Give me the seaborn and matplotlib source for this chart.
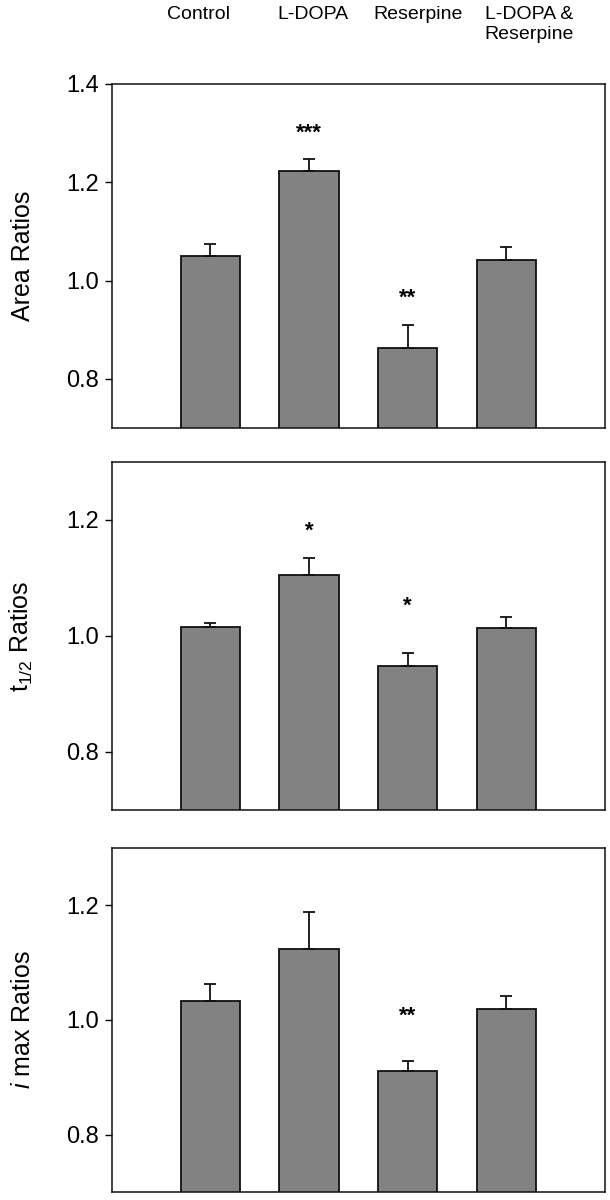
import numpy as np
import pandas as pd
import seaborn as sns
import matplotlib
matplotlib.use('Agg')
import matplotlib.pyplot as plt
from matplotlib.transforms import offset_copy, blended_transform_factory

# Данные
groups = ['Control', 'L-DOPA', 'Reserpine', 'L-DOPA & Reserpine']
group_labels = ['Control', 'L-DOPA', 'Reserpine', 'L-DOPA &\nReserpine']

area_vals = [1.050, 1.223, 0.862, 1.041]
area_err = [0.025, 0.024, 0.048, 0.027]
area_stars = ['', '***', '**', '']
area_star_y = [np.nan, 1.316, 0.980, np.nan]

t12_vals = [1.015, 1.106, 0.949, 1.013]
t12_err = [0.007, 0.029, 0.022, 0.019]
t12_stars = ['', '*', '*', '']
t12_star_y = [np.nan, 1.193, 1.064, np.nan]

imax_vals = [1.034, 1.124, 0.911, 1.019]
imax_err = [0.028, 0.065, 0.017, 0.022]
imax_stars = ['', '', '**', '']
imax_star_y = [np.nan, np.nan, 1.019, np.nan]

ylabels = ['Area Ratios', 't$_{1/2}$ Ratios', '$\\mathit{i}$ max Ratios']
ylims = [(0.7, 1.4), (0.7, 1.3), (0.7, 1.3)]
yticks = [[0.8, 1.0, 1.2, 1.4], [0.8, 1.0, 1.2], [0.8, 1.0, 1.2]]

sns.set_theme(style='white')
plt.rcParams['font.family'] = ['Liberation Sans', 'DejaVu Sans']
plt.rcParams['mathtext.fontset'] = 'custom'
plt.rcParams['mathtext.rm'] = 'Liberation Sans'
plt.rcParams['mathtext.it'] = 'Liberation Sans:italic'
plt.rcParams['mathtext.default'] = 'regular'
plt.rcParams['text.color'] = 'black'
plt.rcParams['axes.labelcolor'] = 'black'
plt.rcParams['ytick.color'] = 'black'
plt.rcParams['xtick.color'] = 'black'

fig = plt.figure(figsize=(6.1, 12), dpi=100)
W, H = 610, 1200
left, right = 111.7, 605
# (верх, низ) панелей в пикселях
panel_px = [(84, 428), (462, 810), (848, 1192)]
axes = []
for top, bot in panel_px:
    axes.append(fig.add_axes([left / W, 1 - bot / H, (right - left) / W, (bot - top) / H]))

panels = [
    (area_vals, area_err, area_stars, area_star_y),
    (t12_vals, t12_err, t12_stars, t12_star_y),
    (imax_vals, imax_err, imax_stars, imax_star_y),
]

for i, (ax, (vals, err, stars, star_y)) in enumerate(zip(axes, panels)):
    df = pd.DataFrame({'group': groups, 'value': vals, 'err': err})
    sns.barplot(data=df, x='group', y='value', order=groups, color='#828282', saturation=1,
                width=0.6, edgecolor='#111111', linewidth=1.3, errorbar=None, ax=ax)
    x = np.arange(len(groups))
    ax.errorbar(x, df['value'], yerr=[np.zeros(len(err)), df['err']], fmt='none',
                ecolor='#111111', elinewidth=1.3, capsize=4.5, capthick=1.3, zorder=1)
    # звёздочки значимости
    star_tr = offset_copy(ax.transData, fig=fig, y=-13, units='dots')
    for xi, s, sy in zip(x, stars, star_y):
        if s:
            ax.text(xi, sy, s, ha='center', va='baseline', fontsize=16, fontweight='bold',
                    transform=star_tr)
    ax.set_xlim(-1, 4)
    ax.set_ylim(*ylims[i])
    ax.set_yticks(yticks[i])
    ax.set_yticklabels([f'{t:.1f}' for t in yticks[i]])
    ax.set_xticks([])
    ax.set_xlabel('')
    ax.set_ylabel(ylabels[i], fontsize=18)
    ax.yaxis.set_label_coords(-0.155, 0.5)
    ax.tick_params(axis='y', left=True, direction='out', length=5, width=1, labelsize=17, pad=4)
    for sp in ax.spines.values():
        sp.set_visible(True)
        sp.set_color('#111111')
        sp.set_linewidth(1.1)

# подписи групп сверху
label_dx = [-0.12, 0.04, 0.11, 0.23]
lab_tr = blended_transform_factory(axes[0].transData, fig.transFigure)
for xi, (lab, dx) in enumerate(zip(group_labels, label_dx)):
    axes[0].text(xi + dx, 1 - 6 / H, lab, ha='center', va='top', fontsize=14,
                 multialignment='center', linespacing=1.2, transform=lab_tr)

fig.savefig('out.png', dpi=100)
